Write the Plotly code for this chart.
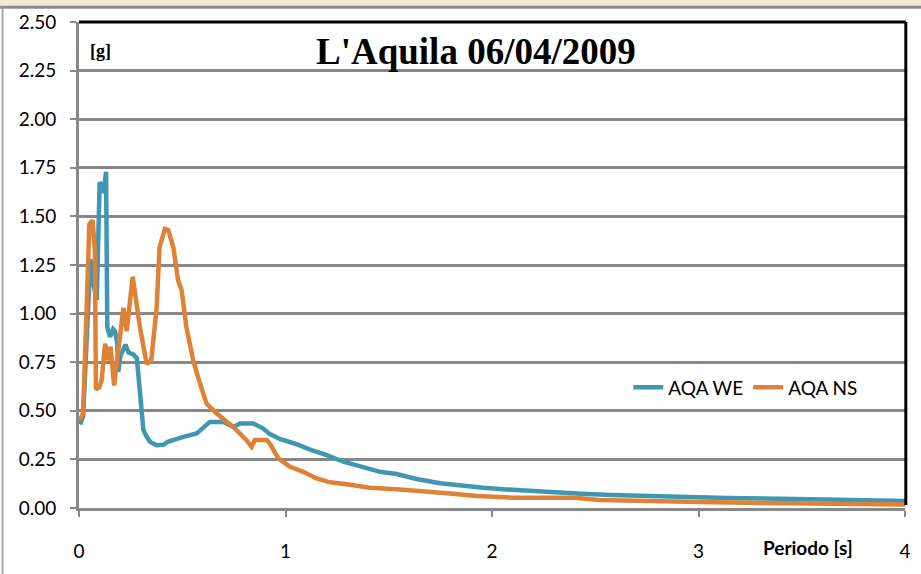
import plotly.graph_objects as go

# ---- data ----
T_WE = [0.005, 0.02, 0.04, 0.055, 0.07, 0.086, 0.1, 0.112, 0.118, 0.131, 0.137, 0.15, 0.165, 0.174,
        0.185, 0.19, 0.2, 0.215, 0.225, 0.24, 0.263, 0.28, 0.295, 0.312, 0.328, 0.345, 0.376, 0.408,
        0.43, 0.457, 0.505, 0.57, 0.634, 0.70, 0.747, 0.78, 0.844, 0.89, 0.925, 0.973, 1.054, 1.119,
        1.2, 1.28, 1.36, 1.458, 1.538, 1.635, 1.748, 1.845, 1.958, 2.055, 2.18, 2.297, 2.43, 2.58,
        2.84, 3.14, 3.54, 3.86, 4.0]
SA_WE = [0.43, 0.47, 0.93, 1.28, 1.15, 1.07, 1.675, 1.66, 1.62, 1.73, 0.93, 0.88, 0.92, 0.91,
         0.85, 0.70, 0.78, 0.81, 0.84, 0.80, 0.79, 0.77, 0.62, 0.40, 0.366, 0.34, 0.323, 0.325,
         0.34, 0.35, 0.366, 0.383, 0.443, 0.443, 0.417, 0.435, 0.435, 0.41, 0.38, 0.355, 0.328, 0.30,
         0.272, 0.238, 0.216, 0.186, 0.175, 0.149, 0.127, 0.114, 0.104, 0.096, 0.087, 0.079, 0.073, 0.067,
         0.058, 0.051, 0.045, 0.038, 0.036]

T_NS = [0.005, 0.02, 0.037, 0.05, 0.066, 0.077, 0.082, 0.098, 0.11, 0.126, 0.142, 0.153, 0.17,
        0.19, 0.215, 0.231, 0.26, 0.295, 0.328, 0.35, 0.376, 0.39, 0.416, 0.432, 0.457, 0.48, 0.497,
        0.52, 0.553, 0.586, 0.618, 0.667, 0.747, 0.81, 0.836, 0.852, 0.909, 0.925, 0.965, 1.022,
        1.086, 1.151, 1.215, 1.296, 1.409, 1.538, 1.667, 1.797, 1.926, 2.103, 2.4, 2.52, 3.07,
        3.86, 4.0]
SA_NS = [0.45, 0.49, 1.03, 1.46, 1.48, 1.32, 0.61, 0.62, 0.66, 0.845, 0.76, 0.83, 0.63,
         0.79, 1.03, 0.91, 1.19, 0.93, 0.74, 0.76, 1.03, 1.34, 1.436, 1.43, 1.34, 1.17, 1.12,
         0.93, 0.76, 0.64, 0.537, 0.486, 0.417, 0.35, 0.315, 0.35, 0.35, 0.33, 0.255, 0.212,
         0.186, 0.152, 0.132, 0.122, 0.104, 0.096, 0.087, 0.075, 0.062, 0.053, 0.053, 0.041, 0.029,
         0.019, 0.018]

X_TICKS = [0, 1, 2, 3, 4]
X_TICK_TEXT = ["0", "1", "2", "3", "4"]

TEAL = "#3f97b1"
ORANGE = "#df8236"
GRID = "#888888"
FONT = "Lato"

fig = go.Figure()
fig.add_trace(go.Scatter(x=T_WE, y=SA_WE, mode="lines", name="AQA WE",
                         line=dict(color=TEAL, width=4.5)))
fig.add_trace(go.Scatter(x=T_NS, y=SA_NS, mode="lines", name="AQA NS",
                         line=dict(color=ORANGE, width=4.5)))

fig.update_layout(
    width=921, height=574,
    margin=dict(l=79, r=16, t=22, b=66, autoexpand=False),
    paper_bgcolor="white", plot_bgcolor="white",
    font=dict(family=FONT, size=19, color="black"),
    showlegend=True,
    legend=dict(orientation="h", x=0.665, y=0.248, xanchor="left", yanchor="middle",
                bgcolor="rgba(0,0,0,0)", font=dict(family=FONT, size=19, color="black"),
                itemwidth=30),
    xaxis=dict(range=[0, 4], tickvals=X_TICKS, ticktext=X_TICK_TEXT, showgrid=False,
               automargin=False,
               zeroline=False, showline=True, linecolor=GRID, linewidth=3,
               ticks="outside", ticklen=6, tickwidth=2, tickcolor=GRID,
               ticklabelstandoff=18, tickfont=dict(family=FONT, size=19, color="black")),
    yaxis=dict(range=[0, 2.5], dtick=0.25, tickformat=".2f", showgrid=True, gridcolor=GRID,
               automargin=False,
               gridwidth=3, zeroline=False, showline=True, linecolor=GRID, linewidth=3,
               ticks="outside", ticklen=6, tickwidth=2, tickcolor=GRID,
               ticklabelstandoff=10, tickfont=dict(family=FONT, size=19, color="black")),
)

# black frame on top and right of the plot area
fig.add_shape(type="line", xref="paper", yref="paper", x0=0, x1=1.001, y0=1, y1=1,
              line=dict(color="black", width=3), layer="above")
fig.add_shape(type="line", xref="paper", yref="paper", x0=1.001, x1=1.001, y0=1, y1=0.006,
              line=dict(color="black", width=3), layer="above")

# top beige band and outer grey border
fig.add_shape(type="rect", xref="paper", yref="paper", x0=-0.1, x1=1.03, y0=1.0329, y1=1.05,
              fillcolor="#f3ebd3", line=dict(width=0), layer="below")
fig.add_shape(type="line", xref="paper", yref="paper", x0=-0.1, x1=1.03, y0=1.0305, y1=1.0305,
              line=dict(color="#8c8c8c", width=3), layer="below")
fig.add_shape(type="line", xref="paper", yref="paper", x0=-0.0926, x1=-0.0926, y0=-0.14, y1=1.0305,
              line=dict(color="#a8a8a8", width=2), layer="below")

# texts
fig.add_annotation(text="L'Aquila 06/04/2009", xref="paper", yref="paper", x=0.481, y=0.94,
                   showarrow=False, xanchor="center", yanchor="middle",
                   font=dict(family="Liberation Serif", size=37, color="black", weight="bold"))
fig.add_annotation(text="[g]", xref="paper", yref="paper", x=0.011, y=0.94,
                   showarrow=False, xanchor="left", yanchor="middle",
                   font=dict(family="Liberation Serif", size=18, color="black", weight="bold"))
fig.add_annotation(text="Periodo [s]", xref="paper", yref="paper", x=0.826, y=-0.082,
                   showarrow=False, xanchor="left", yanchor="middle",
                   font=dict(family=FONT, size=19, color="black", weight="bold"))

fig.write_html("out.html")
